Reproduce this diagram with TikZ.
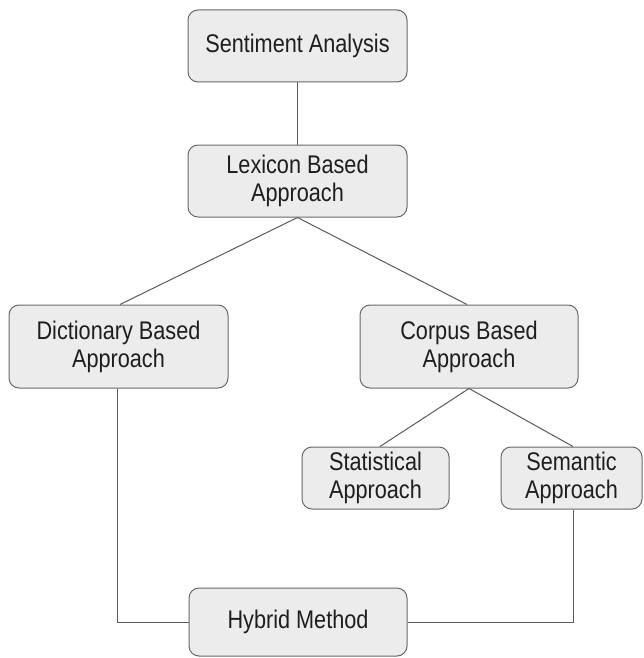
\documentclass[tikz,border=0pt]{standalone}
\usepackage{fontspec}
\setmainfont{Liberation Sans}[FakeStretch=0.85]
\definecolor{boxfill}{RGB}{236,236,236}
\definecolor{boxline}{RGB}{105,105,105}
\definecolor{txt}{RGB}{30,30,30}
\definecolor{conn}{RGB}{90,90,90}
\begin{document}
\begin{tikzpicture}[x=1pt,y=-1pt,
  box/.style={draw=boxline,fill=boxfill,rounded corners=10pt,line width=1pt,
    align=center,text=txt,inner sep=0pt,
    font=\fontsize{25.5}{28}\selectfont},
  conn/.style={draw=conn,line width=1pt}]
\useasboundingbox (0,0) rectangle (644,658);
\node[box,minimum width=219pt,minimum height=72pt] (sa) at (297.5,46) {Sentiment Analysis};
\node[box,minimum width=219pt,minimum height=72pt] (lex) at (297.5,181) {Lexicon Based\\Approach};
\node[box,minimum width=219pt,minimum height=83pt] (dict) at (118.5,346.5) {Dictionary Based\\Approach};
\node[box,minimum width=218pt,minimum height=83pt] (corp) at (469,346.5) {Corpus Based\\Approach};
\node[box,minimum width=147pt,minimum height=62pt] (stat) at (375.5,478) {Statistical\\Approach};
\node[box,minimum width=141pt,minimum height=62pt] (sem) at (571.5,478) {Semantic\\Approach};
\node[box,minimum width=218pt,minimum height=68pt] (hyb) at (298,622) {Hybrid Method};
\draw[conn] (sa.south) -- (lex.north);
\draw[conn] (lex.south) -- ([xshift=1.5pt]dict.north);
\draw[conn] (lex.south) -- ([xshift=-2pt]corp.north);
\draw[conn] (corp.south) -- ([xshift=4.5pt]stat.north);
\draw[conn] (corp.south) -- ([xshift=1.5pt]sem.north);
\draw[conn] ([xshift=-1.5pt]dict.south) |- (hyb.west);
\draw[conn] ([xshift=1.5pt]sem.south) |- (hyb.east);
\end{tikzpicture}
\end{document}
